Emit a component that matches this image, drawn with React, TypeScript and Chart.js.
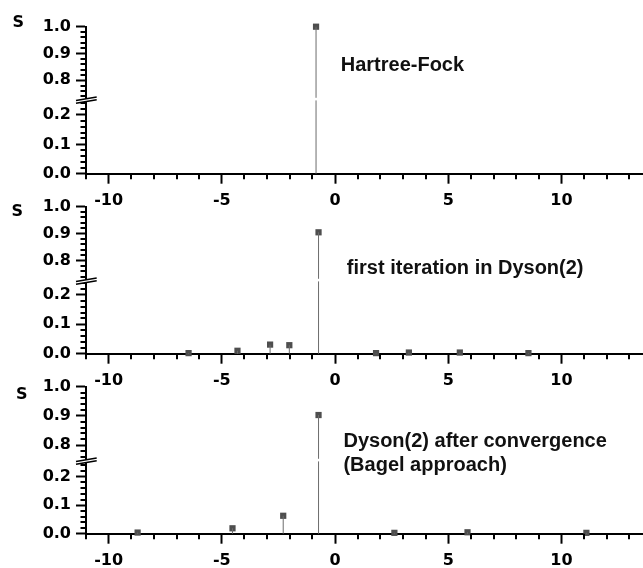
import React, { useEffect, useRef } from 'react';
import { Chart, registerables } from 'chart.js';

Chart.register(...registerables);

// ---- data ----
const xTickValues = [-10, -5, 0, 5, 10];
const upperTickValues = [0.8, 0.9, 1.0];
const lowerTickValues = [0.0, 0.1, 0.2];

const hfEnergies = [-0.84];
const hfS = [1.0];

const dysonFirstEnergies = [-6.47, -4.31, -2.87, -2.02, -0.73, 1.81, 3.26, 5.51, 8.54];
const dysonFirstS = [0.002, 0.01, 0.031, 0.029, 0.905, 0.002, 0.004, 0.004, 0.002];

const dysonConvEnergies = [-8.72, -4.53, -2.29, -0.73, 2.62, 5.85, 11.1];
const dysonConvS = [0.004, 0.019, 0.063, 0.903, 0.003, 0.005, 0.003];

const panelTitles = [
  ['Hartree-Fock'],
  ['first iteration in Dyson(2)'],
  ['Dyson(2) after convergence', '(Bagel approach)'],
];
const yTitle = 'S';

// ---- layout / style ----
const X_MIN = -11;
const X_MAX = 13.6;
const CANVAS_W = 643;
const CANVAS_H = 208;
const AREA_TOP = 26.7;
const AREA_BOTTOM = 173.7;
const AXIS_W = 86;

const TICK_FONT = { family: '"DejaVu Sans", sans-serif', weight: 'bold' as const, size: 16 };
const STEM_COLOR = '#6c6c6c';
const MARK_COLOR = '#4e4e4e';

interface PanelCfg {
  xs: number[];
  ys: number[];
  title: string[];
  top: number;
  hiMin: number;
  loMax: number;
  hiW: number;
  loW: number;
  titleX: number;
  titleDy: number[];
  sX: number;
  sDy: number;
}

const panels: PanelCfg[] = [
  { xs: hfEnergies, ys: hfS, title: panelTitles[0], top: 0, hiMin: 0.73, loMax: 0.2545, hiW: 72.3, loW: 74.7, titleX: 0.25, titleDy: [44], sX: 18.3, sDy: -3.9 },
  { xs: dysonFirstEnergies, ys: dysonFirstS, title: panelTitles[1], top: 180, hiMin: 0.728, loMax: 0.251, hiW: 73.3, loW: 73.7, titleX: 0.52, titleDy: [67.3], sX: 17.2, sDy: 5 },
  { xs: dysonConvEnergies, ys: dysonConvS, title: panelTitles[2], top: 360, hiMin: 0.749, loMax: 0.259, hiW: 73.3, loW: 73.7, titleX: 0.37, titleDy: [60, 84], sX: 21.7, sDy: 8 },
];

function zeroPadding(s: any) {
  s.paddingLeft = 0;
  s.paddingRight = 0;
  s.paddingTop = 0;
  s.paddingBottom = 0;
}

function Panel({ cfg }: { cfg: PanelCfg }) {
  const ref = useRef<HTMLCanvasElement>(null);

  useEffect(() => {
    const canvas = ref.current;
    if (!canvas) return;

    const stemsLo: any[] = [];
    const stemsHi: any[] = [];
    const ptsLo: any[] = [];
    const ptsHi: any[] = [];
    cfg.xs.forEach((x, i) => {
      const v = cfg.ys[i];
      stemsLo.push({ x, y: 0 }, { x, y: Math.min(v, cfg.loMax) }, { x, y: null });
      if (v > cfg.hiMin) {
        stemsHi.push({ x, y: cfg.hiMin }, { x, y: v }, { x, y: null });
        ptsHi.push({ x, y: v });
      } else {
        ptsLo.push({ x, y: v });
      }
    });

    const decor = {
      id: 'decor',
      afterDraw(chart: any) {
        const ctx = chart.ctx as CanvasRenderingContext2D;
        const area = chart.chartArea;
        const xs = chart.scales.x;
        const hi = chart.scales.yHigh;
        const lo = chart.scales.yLow;
        ctx.save();
        ctx.strokeStyle = '#000';
        ctx.lineWidth = 2;
        ctx.beginPath();
        for (let v = Math.ceil(xs.min); v <= Math.floor(xs.max); v++) {
          if (v % 5 === 0) continue;
          const px = Math.round(xs.getPixelForValue(v));
          ctx.moveTo(px, area.bottom);
          ctx.lineTo(px, area.bottom + 5.5);
        }
        for (const s of [hi, lo]) {
          for (let k = Math.ceil(s.min * 50 - 1e-6); k <= Math.floor(s.max * 50 + 1e-6); k++) {
            if (k % 5 === 0) continue;
            const py = Math.round(s.getPixelForValue(k / 50));
            ctx.moveTo(area.left, py);
            ctx.lineTo(area.left - 5.5, py);
          }
        }
        ctx.stroke();

        // axis break
        const b = hi.bottom;
        ctx.fillStyle = '#fff';
        ctx.fillRect(area.left + 2, b - 1.2, area.right - area.left, 2.6);
        const l = area.left;
        ctx.beginPath();
        ctx.moveTo(l - 10, b + 1.5);
        ctx.lineTo(l + 10.7, b - 2.0);
        ctx.lineTo(l + 10.7, b + 0.8);
        ctx.lineTo(l - 10, b + 4.3);
        ctx.closePath();
        ctx.fill();
        ctx.lineWidth = 1.6;
        ctx.beginPath();
        ctx.moveTo(l - 10, b + 1.5);
        ctx.lineTo(l + 10.7, b - 2.0);
        ctx.moveTo(l - 10, b + 4.3);
        ctx.lineTo(l + 10.7, b + 0.8);
        ctx.stroke();

        // titles
        ctx.fillStyle = '#111';
        ctx.font = 'bold 20px "Liberation Sans", Arial, sans-serif';
        ctx.textAlign = 'left';
        ctx.textBaseline = 'alphabetic';
        const tx = xs.getPixelForValue(cfg.titleX);
        cfg.title.forEach((t, i) => {
          ctx.fillText(t, tx, area.top + cfg.titleDy[i]);
        });

        // S label
        ctx.fillStyle = '#000';
        ctx.font = 'bold 16px "DejaVu Sans", sans-serif';
        ctx.textAlign = 'center';
        ctx.textBaseline = 'middle';
        ctx.fillText(yTitle, cfg.sX, area.top + cfg.sDy);
        ctx.restore();
      },
    };

    const yCommon = (ticks: number[]) => ({
      type: 'linear' as const,
      position: 'left' as const,
      stack: 'panel',
      afterBuildTicks: (s: any) => {
        s.ticks = ticks.map((value) => ({ value }));
      },
      afterFit: (s: any) => {
        s.width = AXIS_W;
        zeroPadding(s);
      },
      grid: { drawOnChartArea: false, drawTicks: true, tickLength: 10, tickWidth: 2, tickColor: '#000' },
      border: { display: true, color: '#000', width: 2 },
      ticks: {
        color: '#000',
        font: TICK_FONT,
        padding: 5,
        autoSkip: false,
        callback: (v: any) => Number(v).toFixed(1),
      },
    });

    const chart = new Chart(canvas, {
      type: 'scatter',
      data: {
        datasets: [
          { data: stemsLo, yAxisID: 'yLow', showLine: true, spanGaps: false, borderColor: STEM_COLOR, borderWidth: 1, pointRadius: 0, clip: false as any },
          { data: stemsHi, yAxisID: 'yHigh', showLine: true, spanGaps: false, borderColor: STEM_COLOR, borderWidth: 1, pointRadius: 0, clip: false as any },
          { data: ptsLo, yAxisID: 'yLow', pointStyle: 'rect', pointRadius: 4.4, backgroundColor: MARK_COLOR, borderColor: MARK_COLOR, borderWidth: 0, clip: false as any },
          { data: ptsHi, yAxisID: 'yHigh', pointStyle: 'rect', pointRadius: 4.4, backgroundColor: MARK_COLOR, borderColor: MARK_COLOR, borderWidth: 0, clip: false as any },
        ],
      },
      options: {
        responsive: false,
        animation: false,
        events: [],
        layout: { autoPadding: false, padding: { top: AREA_TOP, left: 0, right: 0, bottom: 0 } },
        plugins: { legend: { display: false }, tooltip: { enabled: false } },
        scales: {
          x: {
            type: 'linear',
            min: X_MIN,
            max: X_MAX,
            afterBuildTicks: (s: any) => {
              s.ticks = xTickValues.map((value) => ({ value }));
            },
            afterFit: (s: any) => {
              s.height = CANVAS_H - AREA_BOTTOM;
              zeroPadding(s);
            },
            grid: { drawOnChartArea: false, drawTicks: true, tickLength: 10, tickWidth: 2, tickColor: '#000' },
            border: { display: true, color: '#000', width: 2 },
            ticks: { color: '#000', font: TICK_FONT, padding: 7.5, maxRotation: 0, autoSkip: false },
          },
          // left boxes are stacked in reverse definition order: the last one goes on top
          yLow: { ...yCommon(lowerTickValues), min: 0, max: cfg.loMax, stackWeight: cfg.loW },
          yHigh: { ...yCommon(upperTickValues), min: cfg.hiMin, max: 1.0, stackWeight: cfg.hiW },
        } as any,
      },
      plugins: [decor],
    });

    return () => chart.destroy();
  }, [cfg]);

  return (
    <canvas
      ref={ref}
      width={CANVAS_W}
      height={CANVAS_H}
      style={{ position: 'absolute', left: 0, top: cfg.top, width: CANVAS_W, height: CANVAS_H }}
    />
  );
}

export default function App() {
  return (
    <div style={{ position: 'absolute', left: 0, top: 0, width: 643, height: 568, background: '#fff', overflow: 'hidden' }}>
      {panels.map((p, i) => (
        <Panel key={i} cfg={p} />
      ))}
    </div>
  );
}
